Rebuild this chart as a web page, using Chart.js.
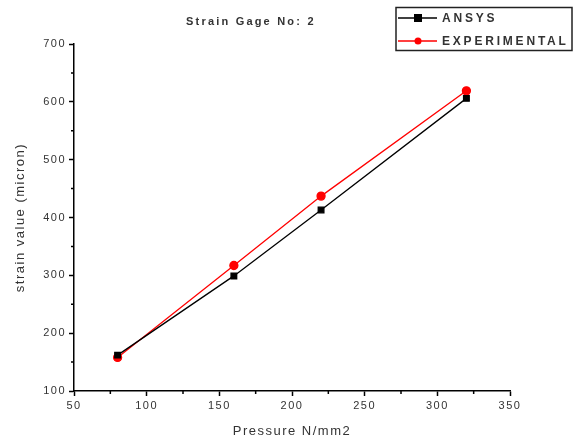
<!DOCTYPE html>
<html>
<head>
<meta charset="utf-8">
<script src="https://cdn.jsdelivr.net/npm/chart.js@4"></script>
<style>
  html, body { margin: 0; padding: 0; background: #fff; }
  #wrap { width: 574px; height: 443px; }
</style>
</head>
<body>
<div id="wrap"><canvas id="myChart"></canvas></div>
<script>
  // data
  const pressure = [80, 160, 220, 320];
  const ansys = [162, 299, 413, 606];
  const experimental = [158, 317, 437, 619];
  const chartTitle = 'Strain Gage No: 2';
  const xTitle = 'Pressure N/mm2';
  const yTitle = 'strain value (micron)';

  const toPoints = (xs, ys) => xs.map((x, i) => ({ x: x, y: ys[i] }));

  // title + boxed legend + minor ticks
  const extras = {
    id: 'extras',
    beforeDraw(chart) {
      // the original's text is drawn wide
      chart.ctx.letterSpacing = '1.5px';
    },
    afterDraw(chart) {
      const ctx = chart.ctx;
      const xs = chart.scales.x, ys = chart.scales.y;
      ctx.save();
      // minor ticks
      ctx.strokeStyle = '#000';
      ctx.lineWidth = 1.5;
      ctx.beginPath();
      for (let v = 75; v < 350; v += 50) {
        const px = xs.getPixelForValue(v);
        ctx.moveTo(px, xs.top);
        ctx.lineTo(px, xs.top + 3);
      }
      for (let v = 150; v < 700; v += 100) {
        const py = ys.getPixelForValue(v);
        ctx.moveTo(ys.right, py);
        ctx.lineTo(ys.right - 3, py);
      }
      ctx.stroke();

      // title
      ctx.fillStyle = '#333';
      ctx.font = 'bold 11px "Liberation Sans", Arial, sans-serif';
      ctx.letterSpacing = '2.2px';
      ctx.textAlign = 'left';
      ctx.textBaseline = 'middle';
      ctx.fillText(chartTitle, 186, 22);

      // legend
      ctx.letterSpacing = '2.8px';
      ctx.lineWidth = 1.5;
      ctx.strokeStyle = '#222';
      ctx.strokeRect(396, 7.5, 176, 43);
      ctx.font = 'bold 12px "Liberation Sans", Arial, sans-serif';
      const rows = [18, 41];
      chart.data.datasets.forEach((ds, i) => {
        const y = rows[i];
        ctx.strokeStyle = ds.borderColor;
        ctx.lineWidth = 1.3;
        ctx.beginPath();
        ctx.moveTo(398, y);
        ctx.lineTo(437, y);
        ctx.stroke();
        ctx.fillStyle = ds.backgroundColor;
        if (ds.pointStyle === 'rect') {
          ctx.fillRect(414, y - 4, 8, 8);
        } else {
          ctx.beginPath();
          ctx.arc(418, y, 3.5, 0, Math.PI * 2);
          ctx.fill();
        }
        ctx.fillStyle = '#333';
        ctx.fillText(ds.label, 442, y + 1);
      });
      ctx.restore();
    }
  };

  const ctx = document.getElementById('myChart').getContext('2d');
  const myChart = new Chart(ctx, {
    type: 'line',
    data: {
      datasets: [
        {
          label: 'ANSYS',
          data: toPoints(pressure, ansys),
          borderColor: '#000',
          backgroundColor: '#000',
          borderWidth: 1.3,
          pointStyle: 'rect',
          pointRadius: 4,
          pointHoverRadius: 4,
          tension: 0
        },
        {
          label: 'EXPERIMENTAL',
          data: toPoints(pressure, experimental),
          borderColor: '#ff0000',
          backgroundColor: '#ff0000',
          borderWidth: 1.3,
          pointStyle: 'circle',
          pointRadius: 4,
          pointHoverRadius: 4,
          tension: 0
        }
      ]
    },
    options: {
      responsive: true,
      maintainAspectRatio: false,
      animation: false,
      layout: { padding: { left: 0, right: 64, top: 44, bottom: 0 } },
      plugins: {
        legend: { display: false },
        title: { display: false },
        tooltip: { enabled: false }
      },
      scales: {
        x: {
          type: 'linear',
          min: 50,
          max: 350,
          afterFit: (s) => { s.height = 52; },
          border: { display: true, color: '#000', width: 1.5 },
          grid: { drawOnChartArea: false, drawTicks: true, tickLength: 5, color: '#000', tickWidth: 1.5 },
          ticks: {
            stepSize: 50,
            padding: 3,
            color: '#333',
            font: { family: '"Liberation Sans", Arial, sans-serif', size: 11 }
          },
          title: {
            display: true,
            text: xTitle,
            color: '#333',
            padding: { top: 0, bottom: 4 },
            font: { family: '"Liberation Sans", Arial, sans-serif', size: 13 }
          }
        },
        y: {
          type: 'linear',
          min: 100,
          max: 700,
          afterFit: (s) => { s.width = 74; },
          border: { display: true, color: '#000', width: 1.5 },
          grid: { drawOnChartArea: false, drawTicks: true, tickLength: 5, color: '#000', tickWidth: 1.5 },
          ticks: {
            stepSize: 100,
            padding: 3,
            color: '#333',
            font: { family: '"Liberation Sans", Arial, sans-serif', size: 11 }
          },
          title: {
            display: true,
            text: yTitle,
            color: '#333',
            padding: { top: 13, bottom: 0 },
            font: { family: '"Liberation Sans", Arial, sans-serif', size: 13 }
          }
        }
      }
    },
    plugins: [extras]
  });
</script>
</body>
</html>
